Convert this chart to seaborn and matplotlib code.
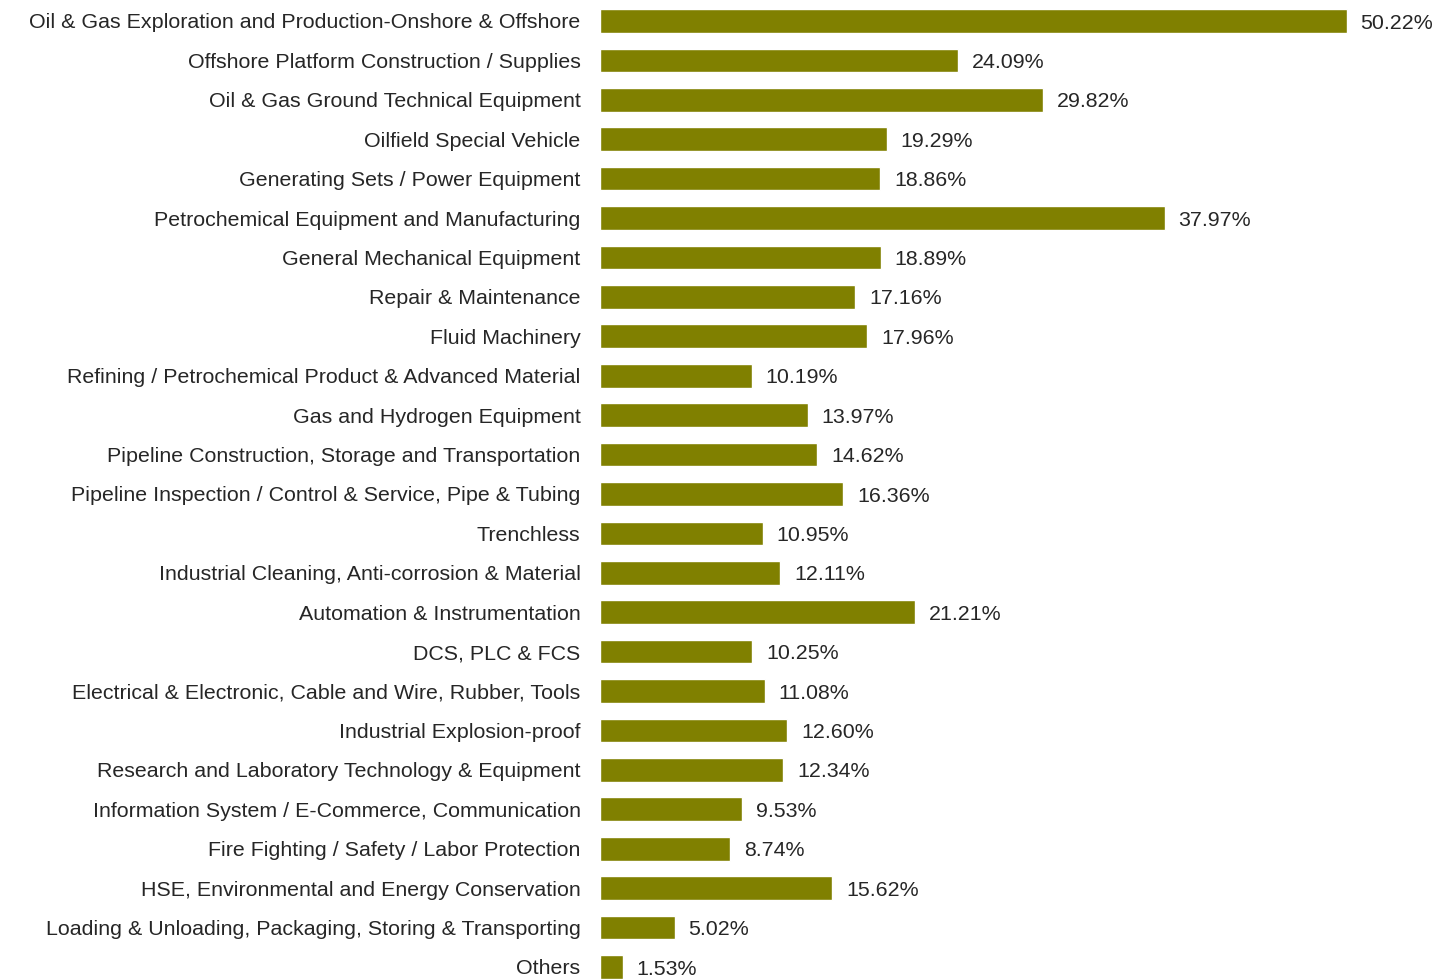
import matplotlib
matplotlib.use("Agg")
import matplotlib.pyplot as plt
import seaborn as sns
import pandas as pd

categories = [
    "Oil & Gas Exploration and Production-Onshore & Offshore",
    "Offshore Platform Construction / Supplies",
    "Oil & Gas Ground Technical Equipment",
    "Oilfield Special Vehicle",
    "Generating Sets / Power Equipment",
    "Petrochemical Equipment and Manufacturing",
    "General Mechanical Equipment",
    "Repair & Maintenance",
    "Fluid Machinery",
    "Refining / Petrochemical Product & Advanced Material",
    "Gas and Hydrogen Equipment",
    "Pipeline Construction, Storage and Transportation",
    "Pipeline Inspection / Control & Service, Pipe & Tubing",
    "Trenchless",
    "Industrial Cleaning, Anti-corrosion & Material",
    "Automation & Instrumentation",
    "DCS, PLC & FCS",
    "Electrical & Electronic, Cable and Wire, Rubber, Tools",
    "Industrial Explosion-proof",
    "Research and Laboratory Technology & Equipment",
    "Information System / E-Commerce, Communication",
    "Fire Fighting / Safety / Labor Protection",
    "HSE, Environmental and Energy Conservation",
    "Loading & Unloading, Packaging, Storing & Transporting",
    "Others",
]
shares = [50.22, 24.09, 29.82, 19.29, 18.86, 37.97, 18.89, 17.16, 17.96, 10.19,
          13.97, 14.62, 16.36, 10.95, 12.11, 21.21, 10.25, 11.08, 12.60, 12.34,
          9.53, 8.74, 15.62, 5.02, 1.53]

df = pd.DataFrame({"category": categories, "share": shares})

sns.set_style("white")
plt.rcParams["font.family"] = ["Liberation Sans", "DejaVu Sans"]

fig = plt.figure(figsize=(14.49, 9.8), dpi=100)
ax = fig.add_axes([600 / 1449, 0, 849 / 1449, 1])

sns.barplot(data=df, x="share", y="category", orient="h", color="#808000",
            saturation=1, width=0.6, ax=ax)

ax.set_xlim(0, 57.1)
ax.set_ylim(24.33, -0.532)
ax.set_xlabel("")
ax.set_ylabel("")
ax.set_xticks([])
for s in ax.spines.values():
    s.set_visible(False)
ax.tick_params(axis="y", length=0, pad=14, labelsize=15.4, labelcolor="#262626")

# percentage labels just past each bar end
for i, v in enumerate(shares):
    ax.annotate(f"{v:.2f}%", xy=(v, i), xytext=(10, -1.5),
                textcoords="offset points", ha="left", va="center",
                fontsize=15.4, color="#262626")

fig.savefig("out.png", dpi=100)
